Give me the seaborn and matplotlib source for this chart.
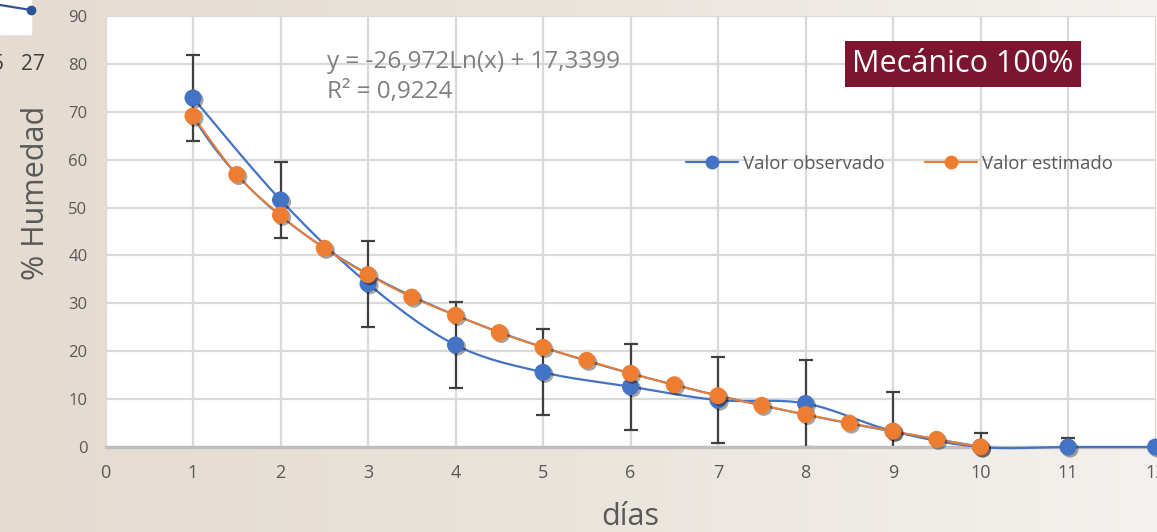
import numpy as np
import matplotlib
matplotlib.use("Agg")
import matplotlib.pyplot as plt
import matplotlib.patheffects as pe
from matplotlib.colors import LinearSegmentedColormap
import seaborn as sns

# ---- data -------------------------------------------------------------
dias_obs = [1, 2, 3, 4, 5, 6, 7, 8, 9, 10, 11, 12]
humedad_obs = [72.9, 51.6, 34.1, 21.3, 15.6, 12.6, 9.8, 9.1, 3.3, 0.0, 0.0, 0.0]
error_obs = [9.0, 7.9, 9.0, 9.0, 9.0, 9.0, 9.0, 9.0, 8.2, 3.0, 1.9, 0.0]

dias_est = [1, 1.5, 2, 2.5, 3, 3.5, 4, 4.5, 5, 5.5, 6, 6.5, 7, 7.5, 8, 8.5, 9, 9.5, 10]
humedad_est = [69.1, 56.9, 48.4, 41.5, 36.0, 31.3, 27.5, 23.9, 20.8, 18.1, 15.4,
               13.0, 10.7, 8.7, 6.8, 5.0, 3.3, 1.6, 0.0]

x_ticks = list(range(0, 13))
y_ticks = list(range(0, 100, 10))
ecuacion = "y = -26,972Ln(x) + 17,3399"
r2_texto = "R² = 0,9224"
titulo = "Mecánico 100%"
etiqueta_x = "días"
etiqueta_y = "% Humedad"
serie_obs = "Valor observado"
serie_est = "Valor estimado"

AZUL = "#4472C4"
NARANJA = "#ED7D31"
GRIS_TXT = "#595959"
GRIS_REJ = "#D9D9D9"
VINO = "#7B1530"


def catmull_rom(x, y, n=24):
    """Smooth curve through the points (Excel-style smoothed line)."""
    pts = np.column_stack([x, y]).astype(float)
    P = np.vstack([pts[0], pts, pts[-1]])
    t = np.linspace(0, 1, n)[:, None]
    segs = []
    for i in range(1, len(P) - 2):
        p0, p1, p2, p3 = P[i - 1], P[i], P[i + 1], P[i + 2]
        seg = 0.5 * ((2 * p1) + (-p0 + p2) * t
                     + (2 * p0 - 5 * p1 + 4 * p2 - p3) * t ** 2
                     + (-p0 + 3 * p1 - 3 * p2 + p3) * t ** 3)
        segs.append(seg if i == 1 else seg[1:])
    s = np.vstack(segs)
    return s[:, 0], s[:, 1]


sns.set_theme(style="white")
plt.rcParams["font.family"] = ["Open Sans", "DejaVu Sans"]

W, H = 1157, 532
fig = plt.figure(figsize=(W / 100, H / 100), dpi=100)

# soft beige gradient behind the chart
bg = fig.add_axes([0, 0, 1, 1], zorder=-10)
grad = np.linspace(0, 1, 256)[None, :]
cmap = LinearSegmentedColormap.from_list("fondo", ["#E4DBD1", "#EAE4DC", "#F4F1EE"])
bg.imshow(grad, aspect="auto", cmap=cmap, extent=[0, 1, 0, 1])
bg.set_axis_off()

# piece of a neighbouring chart at the top-left corner
bg.add_patch(plt.Rectangle((0, 1 - 34 / H), 31 / W, 34 / H, color="white", zorder=2))
bg.plot([0, 31 / W], [1 - 5 / H, 1 - 10 / H], color="#2F5597", lw=1.6, zorder=3)
bg.plot([31 / W], [1 - 10 / H], "o", color="#2F5597", ms=6, zorder=4)
bg.set_xlim(0, 1)
bg.set_ylim(0, 1)
fig.text(21 / W, 1 - 65 / H, "27", fontsize=15, color="#404040", va="center", ha="left")
fig.text(4 / W, 1 - 65 / H, "5", fontsize=15, color="#404040", va="center", ha="right")

# main plot area
ax = fig.add_axes([105.5 / W, (H - 447) / H, 1050 / W, 431 / H])
ax.set_facecolor("white")
ax.set_xlim(0, 12)
ax.set_ylim(0, 90)
ax.set_xticks(x_ticks)
ax.set_yticks(y_ticks)
ax.grid(True, color=GRIS_REJ, lw=1.6)
ax.set_axisbelow(True)
for s in ["top", "right", "left"]:
    ax.spines[s].set_visible(False)
ax.spines["bottom"].set_color("#BFBFBF")
ax.spines["bottom"].set_linewidth(2.4)
ax.tick_params(axis="x", length=0, pad=12, labelsize=13, labelcolor=GRIS_TXT)
ax.tick_params(axis="y", length=0, pad=13, labelsize=12, labelcolor=GRIS_TXT)

# error bars of the observed series
ax.errorbar(dias_obs, humedad_obs, yerr=error_obs, fmt="none", ecolor="#404040",
            elinewidth=1.6, capsize=5, capthick=1.6, zorder=2)

# logarithmic trendline
coef = np.polyfit(np.log(dias_est), humedad_est, 1)
xt = np.linspace(1, 10.3, 200)
ax.plot(xt, np.polyval(coef, np.log(xt)), color=AZUL, lw=1.5, zorder=3)

# smoothed series lines
xo, yo = catmull_rom(dias_obs, humedad_obs)
ax.plot(xo, yo, color=AZUL, lw=1.6, zorder=3, clip_on=False)
xe, ye = catmull_rom(dias_est, humedad_est)
ax.plot(xe, ye, color=NARANJA, lw=1.4, zorder=4)
xtail = np.linspace(10, 10.3, 10)
ax.plot(xtail, np.polyval(coef, np.log(xtail)), color=NARANJA, lw=1.4, zorder=4)

sombra = [pe.SimplePatchShadow(offset=(1.5, -1.5), shadow_rgbFace="black", alpha=0.35),
          pe.Normal()]
sns.scatterplot(x=dias_obs, y=humedad_obs, ax=ax, color=AZUL, s=150,
                edgecolor="none", zorder=5, clip_on=False)
ax.collections[-1].set_path_effects(sombra)
sns.scatterplot(x=dias_est, y=humedad_est, ax=ax, color=NARANJA, s=150,
                edgecolor="none", zorder=6, clip_on=False)
ax.collections[-1].set_path_effects(sombra)

# axis titles
fig.text(630 / W, 1 - 517 / H, etiqueta_x, fontsize=22, color=GRIS_TXT,
         ha="center", va="center")
fig.text(36 / W, 1 - 193 / H, etiqueta_y, fontsize=22, color=GRIS_TXT,
         ha="center", va="center", rotation=90)

# trendline equation
fig.text(327 / W, 1 - 62 / H, ecuacion, fontsize=17.5, color="#7F7F7F", ha="left", va="center")
fig.text(327 / W, 1 - 92 / H, r2_texto, fontsize=17.5, color="#7F7F7F", ha="left", va="center")

# title box
fig.text(963 / W, 1 - 64 / H, titulo, fontsize=22, color="white", ha="center", va="center",
         bbox=dict(boxstyle="square,pad=0.25", facecolor=VINO, edgecolor="none"))

# legend
h1 = plt.Line2D([], [], color=AZUL, lw=1.6, marker="o", ms=10, mec="none")
h2 = plt.Line2D([], [], color=NARANJA, lw=1.6, marker="o", ms=10, mec="none")
leg = fig.legend([h1, h2], [serie_obs, serie_est], loc="center left",
                 bbox_to_anchor=(686 / W, 1 - 164 / H), ncol=2, frameon=False,
                 fontsize=13.4, handlelength=2.8, handletextpad=0.25,
                 columnspacing=2.2, borderpad=0, borderaxespad=0)
for t in leg.get_texts():
    t.set_color(GRIS_TXT)

fig.savefig("out.png", dpi=100)
